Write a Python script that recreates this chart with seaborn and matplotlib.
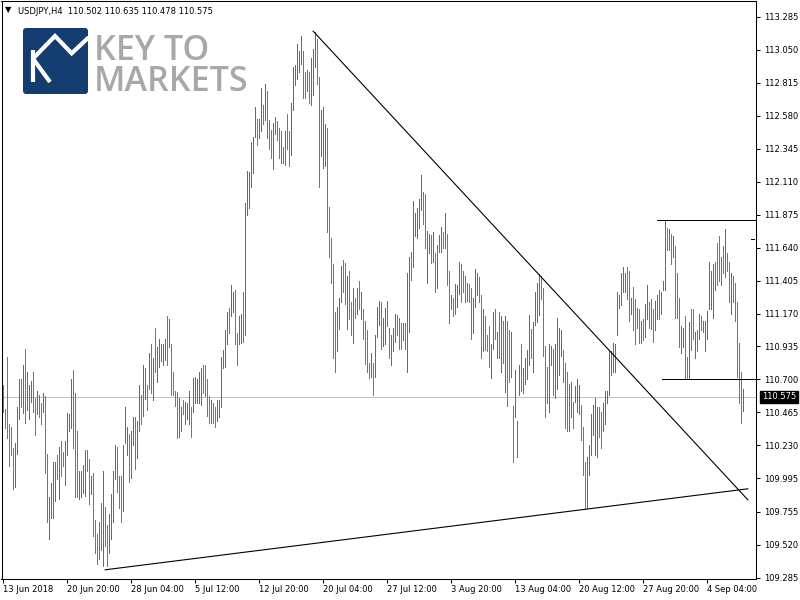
import matplotlib
matplotlib.use("Agg")
import matplotlib.pyplot as plt
import matplotlib.transforms as mtransforms
from matplotlib.patches import FancyBboxPatch
import pandas as pd
import seaborn as sns

# USDJPY H4 bars, bar 0 = 13 Jun 2018
bar_high = [
    110.66, 110.49, 110.86, 110.38, 110.36, 110.21, 110.25, 110.50, 110.70, 110.70,
    110.80, 110.92, 110.75, 110.66, 110.69, 110.75, 110.57, 110.62, 110.59, 110.53,
    110.60, 110.58, 110.17, 109.86, 109.96, 110.11, 110.11, 110.16, 110.22, 110.26,
    110.18, 110.26, 110.46, 110.45, 110.70, 110.77, 110.60, 110.33, 110.05, 110.05,
    110.09, 110.20, 110.20, 110.13, 110.01, 110.03, 109.70, 109.60, 109.68, 109.82,
    110.05, 109.79, 109.66, 109.74, 109.88, 110.05, 110.23, 110.22, 110.01, 110.01,
    110.23, 110.50, 110.36, 110.31, 110.33, 110.43, 110.43, 110.40, 110.66, 110.59,
    110.80, 110.78, 110.66, 110.89, 110.95, 110.85, 111.07, 110.93, 110.99, 110.95,
    110.95, 110.99, 111.15, 111.13, 110.95, 110.75, 110.62, 110.61, 110.57, 110.50,
    110.55, 110.54, 110.53, 110.62, 110.50, 110.71, 110.72, 110.70, 110.75, 110.78,
    110.80, 110.80, 110.70, 110.58, 110.55, 110.53, 110.50, 110.55, 110.55, 110.86,
    110.91, 111.05, 111.18, 111.21, 111.37, 111.32, 111.34, 111.03, 111.15, 111.17,
    111.32, 111.96, 112.19, 112.18, 112.39, 112.43, 112.64, 112.56, 112.56, 112.78,
    112.66, 112.81, 112.76, 112.55, 112.48, 112.53, 112.57, 112.54, 112.49, 112.47,
    112.36, 112.47, 112.59, 112.47, 112.67, 112.93, 112.94, 113.09, 113.04, 113.15,
    113.04, 112.89, 112.91, 112.89, 112.99, 113.06, 113.18, 113.13, 112.86, 112.62,
    112.64, 112.52, 112.49, 111.93, 111.71, 111.52, 111.18, 111.22, 111.28, 111.51,
    111.55, 111.53, 111.44, 111.47, 111.25, 111.35, 111.28, 111.35, 111.40, 111.32,
    111.20, 111.12, 111.05, 110.82, 110.89, 110.82, 111.02, 111.22, 111.26, 111.25,
    111.14, 111.21, 111.26, 111.07, 111.02, 111.07, 111.17, 111.16, 111.14, 111.10,
    111.10, 111.10, 111.46, 111.57, 111.61, 111.97, 111.89, 111.92, 111.99, 112.16,
    112.04, 112.02, 111.76, 111.74, 111.73, 111.75, 111.60, 111.66, 111.73, 111.79,
    111.75, 111.89, 111.74, 111.47, 111.30, 111.28, 111.38, 111.37, 111.54, 111.52,
    111.47, 111.44, 111.39, 111.38, 111.35, 111.28, 111.49, 111.46, 111.43, 111.30,
    111.20, 111.15, 111.02, 111.08, 110.95, 111.18, 111.20, 111.04, 111.18, 111.15,
    111.12, 111.15, 111.12, 111.05, 111.04, 110.51, 110.77, 110.40, 110.80, 110.95,
    110.78, 110.85, 110.91, 111.16, 111.06, 111.11, 111.32, 111.39, 111.45, 111.44,
    111.35, 110.94, 110.79, 110.95, 110.94, 110.92, 110.95, 111.14, 111.07, 111.05,
    110.91, 110.82, 110.75, 110.67, 110.68, 110.54, 110.65, 110.70, 110.66, 110.52,
    110.36, 110.11, 110.15, 110.23, 110.45, 110.52, 110.57, 110.50, 110.50, 110.47,
    110.53, 110.62, 110.62, 110.90, 110.90, 110.96, 110.95, 111.32, 111.30, 111.46,
    111.50, 111.46, 111.50, 111.47, 111.28, 111.36, 111.27, 111.21, 111.20, 111.12,
    111.13, 111.24, 111.37, 111.25, 111.27, 111.20, 111.26, 111.30, 111.34, 111.32,
    111.40, 111.84, 111.78, 111.77, 111.74, 111.72, 111.65, 111.46, 111.28, 111.08,
    111.07, 111.15, 110.86, 111.11, 111.20, 111.20, 111.04, 111.05, 111.17, 111.15,
    111.12, 111.12, 111.19, 111.54, 111.47, 111.52, 111.54, 111.67, 111.72, 111.57,
    111.65, 111.77, 111.60, 111.54, 111.46, 111.44, 111.39, 111.25, 110.96, 110.75,
    110.635,
]
bar_low = [
    110.47, 110.35, 110.28, 110.08, 110.16, 109.92, 109.93, 110.17, 110.42, 110.50,
    110.46, 110.39, 110.48, 110.42, 110.54, 110.47, 110.30, 110.45, 110.43, 110.38,
    110.47, 110.03, 109.68, 109.56, 109.71, 109.71, 109.83, 109.99, 109.85, 110.01,
    110.08, 109.95, 110.16, 110.33, 110.35, 110.21, 109.86, 109.86, 109.85, 109.86,
    109.89, 109.87, 110.05, 109.81, 109.88, 109.58, 109.46, 109.38, 109.42, 109.48,
    109.37, 109.51, 109.37, 109.46, 109.56, 109.68, 109.99, 109.90, 109.78, 109.68,
    109.76, 110.25, 110.16, 109.97, 110.00, 110.23, 110.06, 110.14, 110.33, 110.38,
    110.44, 110.56, 110.48, 110.63, 110.60, 110.55, 110.75, 110.68, 110.79, 110.83,
    110.80, 110.84, 110.80, 110.93, 110.59, 110.59, 110.51, 110.28, 110.29, 110.33,
    110.45, 110.38, 110.42, 110.38, 110.29, 110.47, 110.53, 110.53, 110.53, 110.52,
    110.60, 110.58, 110.44, 110.39, 110.39, 110.39, 110.36, 110.40, 110.43, 110.50,
    110.78, 110.79, 110.95, 111.03, 111.15, 111.18, 110.95, 110.80, 110.95, 110.96,
    110.97, 111.02, 111.87, 111.92, 112.07, 112.17, 112.43, 112.37, 112.42, 112.47,
    112.52, 112.55, 112.42, 112.34, 112.28, 112.20, 112.45, 112.41, 112.28, 112.24,
    112.24, 112.23, 112.34, 112.22, 112.30, 112.62, 112.80, 112.84, 112.89, 112.95,
    112.71, 112.71, 112.76, 112.67, 112.66, 112.73, 112.93, 112.81, 112.07, 112.29,
    112.21, 112.22, 111.75, 111.57, 111.39, 110.85, 110.75, 110.90, 111.06, 111.25,
    111.32, 111.24, 111.06, 111.13, 111.02, 110.96, 111.14, 111.17, 111.20, 111.13,
    110.99, 110.81, 110.75, 110.71, 110.72, 110.59, 110.72, 111.00, 111.09, 110.92,
    110.94, 110.95, 111.08, 110.85, 110.80, 110.90, 110.97, 111.02, 110.92, 110.92,
    110.98, 110.92, 110.75, 111.04, 111.41, 111.50, 111.72, 111.71, 111.78, 111.91,
    111.81, 111.64, 111.39, 111.60, 111.53, 111.54, 111.32, 111.35, 111.61, 111.61,
    111.64, 111.64, 111.37, 111.10, 111.20, 111.15, 111.17, 111.22, 111.31, 111.25,
    111.32, 111.25, 111.26, 111.25, 110.99, 111.03, 111.22, 111.30, 111.25, 110.85,
    110.90, 110.91, 110.90, 110.79, 110.71, 110.92, 110.99, 110.85, 110.85, 110.75,
    110.82, 110.61, 110.51, 110.68, 110.72, 110.11, 110.43, 110.15, 110.59, 110.62,
    110.60, 110.67, 110.70, 110.80, 110.85, 110.75, 111.09, 111.11, 111.16, 111.27,
    110.87, 110.43, 110.53, 110.47, 110.80, 110.59, 110.57, 110.63, 110.73, 110.87,
    110.68, 110.35, 110.33, 110.33, 110.43, 110.35, 110.54, 110.47, 110.45, 110.27,
    110.02, 109.78, 109.78, 110.02, 110.16, 110.30, 110.16, 110.15, 110.29, 110.21,
    110.33, 110.38, 110.53, 110.59, 110.73, 110.75, 110.75, 111.02, 111.21, 111.23,
    111.32, 111.32, 111.27, 111.12, 111.17, 111.05, 110.95, 111.07, 110.96, 110.96,
    110.98, 111.00, 111.13, 111.07, 111.06, 110.97, 111.05, 111.13, 111.13, 111.17,
    111.34, 111.34, 111.62, 111.62, 111.52, 111.57, 111.14, 111.14, 110.93, 110.89,
    110.93, 110.70, 110.70, 110.70, 110.91, 110.99, 110.85, 110.90, 110.99, 111.05,
    111.04, 110.90, 110.99, 111.20, 111.20, 111.14, 111.34, 111.37, 111.40, 111.37,
    111.46, 111.43, 111.47, 111.25, 111.17, 111.25, 111.12, 110.72, 110.53, 110.39,
    110.478,
]
# u = bull bar (close above open), d = bear bar
bar_dir = (
    "dddddduuud" "uduuuddudd" "udduuuudud" "duuuuddduu" "uuddudddud"
    "udduuuuddd" "uuuduuduud" "uudududuuu" "uududddduu" "duuuduuuuu"
    "ddddudduuu" "uuuduudduu" "duuuuuuduu" "dudddudddu" "dudduuuuuu"
    "dduduuuddu" "uuddddduuu" "dduddududu" "dddduduuud" "uudduuuddd"
    "uduuduuuuu" "dduududuuu" "dudduduuud" "ddudduuudd" "uddduududu"
    "dudduduuud" "uuuuduuuud" "ddduuduuuu" "ddduuduuud" "dduuuuuudd"
    "uuuuuuuuuu" "uudduddudu" "duududuudu" "uudududddu" "udduddudud"
    "uuuuuuuddu" "dudduddddd" "u"
)
assert len(bar_high) == len(bar_low) == len(bar_dir), (len(bar_high), len(bar_low), len(bar_dir))

last_ohlc = ["110.502", "110.635", "110.478", "110.575"]
bid_price = 110.575

price_ticks = [113.285, 113.050, 112.815, 112.580, 112.345, 112.110, 111.875,
               111.640, 111.405, 111.170, 110.935, 110.700, 110.465, 110.230,
               109.995, 109.755, 109.520, 109.285]
price_labels = ["113.285", "113.050", "112.815", "112.580", "112.345", "112.110",
                "111.875", "111.640", "111.405", "111.170", "110.935", "110.700",
                "110.465", "110.230", "109.995", "109.755", "109.520", "109.285"]
time_tick_bars = [0, 32, 64, 96, 128, 160, 192, 224, 256, 288, 320, 352]
time_tick_labels = ["13 Jun 2018", "20 Jun 20:00", "28 Jun 04:00", "5 Jul 12:00",
                    "12 Jul 20:00", "20 Jul 04:00", "27 Jul 12:00", "3 Aug 20:00",
                    "13 Aug 04:00", "20 Aug 12:00", "27 Aug 20:00", "4 Sep 04:00"]

# drawn objects, as (bar, price) end points
falling_line_bar = [154.85, 372.35]
falling_line_price = [113.185, 109.84]
rising_line_bar = [50.85, 372.35]
rising_line_price = [109.342, 109.92]
range_top_bar = [326.85, 375.85]
range_top_price = [111.84, 111.84]
range_bottom_bar = [329.35, 375.85]
range_bottom_price = [110.70, 110.70]
stray_mark_bar = [373.85, 375.35]
stray_mark_price = [111.70, 111.70]

UP_COLOR = "#2e8b57"
DOWN_COLOR = "#ff4500"

sns.set_style("white")
plt.rcParams["font.family"] = ["DejaVu Sans"]

bars = pd.DataFrame({
    "bar": range(len(bar_high)),
    "high": bar_high,
    "low": bar_low,
    "dir": list(bar_dir),
})
bars["color"] = bars["dir"].map({"u": UP_COLOR, "d": DOWN_COLOR})

fig = plt.figure(figsize=(8, 6), dpi=100)
ax = fig.add_axes([1.5 / 800, 1 - 578.5 / 600, 754.5 / 800, 577.5 / 600])
ax.set_facecolor("white")

# bid line behind the bars
ax.axhline(bid_price, color="#c0c0c0", lw=0.7, zorder=1)

ax.vlines(bars["bar"], bars["low"], bars["high"], colors=bars["color"],
          linewidth=0.7, antialiased=False, zorder=2)

# trend lines (thin, smooth) and the flat range lines (crisp)
for xs, ys in [(falling_line_bar, falling_line_price),
               (rising_line_bar, rising_line_price)]:
    sns.lineplot(x=xs, y=ys, ax=ax, color="black", linewidth=0.8, zorder=3)
for xs, ys in [(range_top_bar, range_top_price),
               (range_bottom_bar, range_bottom_price),
               (stray_mark_bar, stray_mark_price)]:
    sns.lineplot(x=xs, y=ys, ax=ax, color="black", linewidth=0.7,
                 antialiased=False, zorder=3)

ax.set_xlim(-0.9, 376.35)
ax.set_ylim(109.280, 113.399)
ax.set_xlabel("")
ax.set_ylabel("")

for sp in ax.spines.values():
    sp.set_visible(True)
    sp.set_color("black")
    sp.set_linewidth(0.75)

ax.yaxis.tick_right()
ax.set_yticks(price_ticks)
ax.set_yticklabels(price_labels)
ax.set_xticks(time_tick_bars)
ax.set_xticklabels(time_tick_labels, ha="left")
ax.tick_params(axis="y", right=True, left=False, labelright=True, labelleft=False,
               direction="out", length=3, width=0.75, pad=3, labelsize=6,
               colors="black")
ax.tick_params(axis="x", bottom=True, direction="out", length=3, width=0.75,
               pad=2, labelsize=6, colors="black")

# current price box on the price scale
trans = mtransforms.blended_transform_factory(ax.transAxes, ax.transData)
ax.text(1.0075, bid_price, f"{bid_price:.3f}", transform=trans, ha="left",
        va="center", fontsize=6, color="white",
        bbox=dict(boxstyle="square,pad=0.2", fc="black", ec="black"))

# header line
fig.text(5 / 800, 1 - 10 / 600, "\u25bc", fontsize=6, va="center", color="black")
fig.text(18 / 800, 1 - 11 / 600, "USDJPY,H4  " + " ".join(last_ohlc),
         fontsize=6, va="center", color="black")

# broker logo
logo = fig.add_axes([23 / 800, 1 - 94 / 600, 65 / 800, 66 / 600])
logo.set_xlim(0, 65)
logo.set_ylim(66, 0)
logo.axis("off")
logo.add_patch(FancyBboxPatch((0, 0), 65, 66, boxstyle="round,pad=0,rounding_size=3",
                              fc="#133d6e", ec="none"))
logo.plot([9.7, 9.7], [22, 54], color="white", lw=3, solid_capstyle="butt")
logo.plot([11, 27], [32, 54], color="white", lw=3, solid_capstyle="butt")
logo.plot([10.3, 32, 48.7, 65], [30.3, 8, 25.3, 10], color="white", lw=3,
          solid_joinstyle="miter")

fig.text(94 / 800, 1 - 60 / 600, "KEY TO", fontsize=24.5, color="#a8a8a8",
         family="Open Sans", fontweight="semibold", va="baseline")
fig.text(94 / 800, 1 - 91 / 600, "MARKETS", fontsize=24.5, color="#a8a8a8",
         family="Open Sans", fontweight="semibold", va="baseline")

fig.savefig("out.png", dpi=100)
